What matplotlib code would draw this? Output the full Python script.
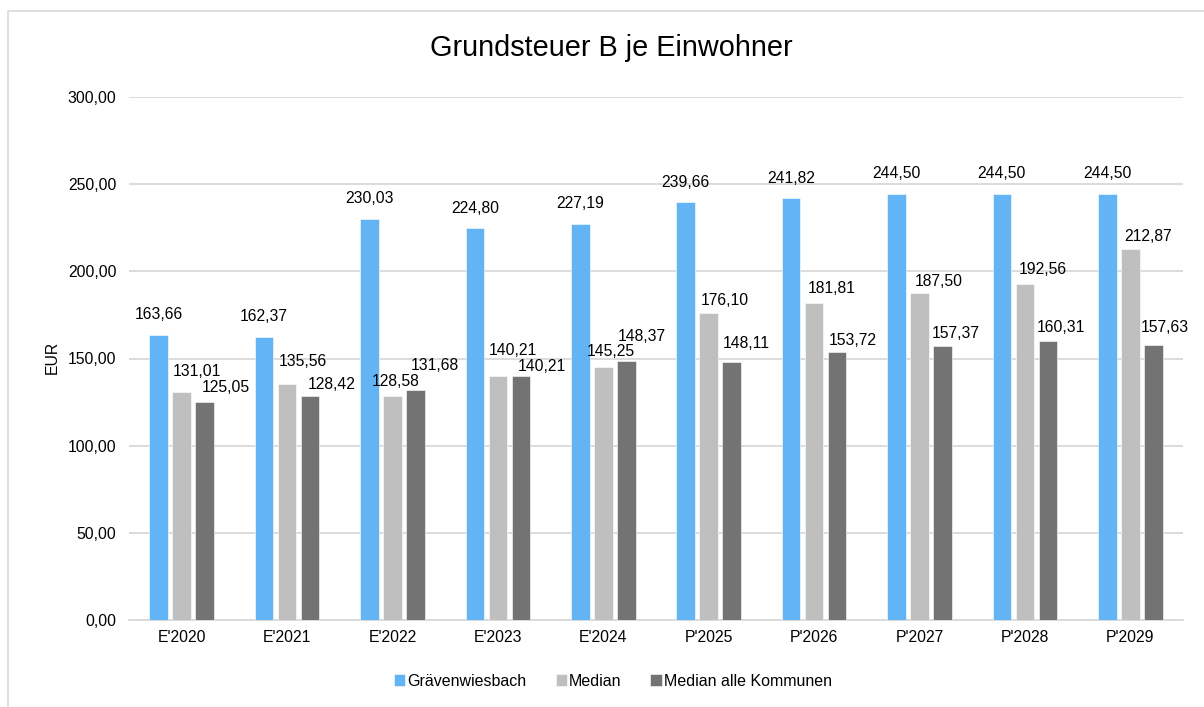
"""Grundsteuer B je Einwohner: clustered bar chart."""

import matplotlib.pyplot as plt
from matplotlib.patches import Rectangle
import numpy as np

plt.rcParams["font.family"] = ["Liberation Sans", "DejaVu Sans"]

categories = ["E'2020", "E'2021", "E'2022", "E'2023", "E'2024",
              "P'2025", "P'2026", "P'2027", "P'2028", "P'2029"]
graevenwiesbach = [163.66, 162.37, 230.03, 224.80, 227.19,
                   239.66, 241.82, 244.50, 244.50, 244.50]
median = [131.01, 135.56, 128.58, 140.21, 145.25,
          176.10, 181.81, 187.50, 192.56, 212.87]
median_alle = [125.05, 128.42, 131.68, 140.21, 148.37,
               148.11, 153.72, 157.37, 160.31, 157.63]
series_names = ["Grävenwiesbach", "Median", "Median alle Kommunen"]
y_ticks = [0, 50, 100, 150, 200, 250, 300]

COLORS = ["#63B4F5", "#BFBFBF", "#737373"]
GRID = "#D9D9D9"
# label offsets (pixels) as placed in the original chart
LABEL_DX = [
    [0] * 10,
    [15, 16, 3, 15, 8, 16, 18, 19, 18, 18],
    [21, 22, 19, 21, 16, 15, 16, 13, 13, 12],
]
LABEL_DY = [
    [20] * 10,
    [20, 22, 14, 25, 15, 12, 15, 12, 15, 12],
    [14, 12, 25, 9, 25, 18, 12, 12, 13, 18],
]


def fmt(v):
    return f"{v:.2f}".replace(".", ",")


fig = plt.figure(figsize=(12.04, 7.07), dpi=100)
fig.patches.append(Rectangle((7.5 / 1204, -0.1), 1.2, 1.1 - 11 / 707,
                             transform=fig.transFigure, fill=False,
                             edgecolor="#D9D9D9", linewidth=1.2))
ax = fig.add_axes([129 / 1204, 87 / 707, 1054 / 1204, 523 / 707])

x = np.arange(len(categories))
width = 0.176
step = 0.218
all_series = [graevenwiesbach, median, median_alle]
for k, (values, color, name) in enumerate(zip(all_series, COLORS, series_names)):
    pos = x + (k - 1) * step
    bars = ax.bar(pos, values, width=width, color=color, label=name,
                  edgecolor="white", linewidth=0.4, zorder=3)
    for i, (b, v) in enumerate(zip(bars, values)):
        ax.annotate(fmt(v), (b.get_x() + b.get_width() / 2, v),
                    xytext=(LABEL_DX[k][i], LABEL_DY[k][i]),
                    textcoords="offset pixels", ha="center", va="center",
                    fontsize=11.3, color="#000000", zorder=4)

ax.set_xlim(-0.5, len(categories) - 0.5)
ax.set_ylim(0, 300)
ax.set_yticks(y_ticks)
ax.set_yticklabels([fmt(t) for t in y_ticks], fontsize=11.3)
ax.set_xticks(x)
ax.set_xticklabels(categories, fontsize=11.3)
ax.tick_params(axis="both", length=0, pad=9)
ax.tick_params(axis="x", pad=7)
ax.grid(axis="y", color=GRID, linewidth=1.3, zorder=0)
for side in ["top", "right", "left"]:
    ax.spines[side].set_visible(False)
ax.spines["bottom"].set_color(GRID)
ax.spines["bottom"].set_linewidth(1.3)
ax.spines["bottom"].set_zorder(0)

fig.text(52 / 1204, 1 - 357 / 707, "EUR", rotation=90, ha="center",
         va="center", fontsize=11.3)
fig.text(611 / 1204, 1 - 48 / 707, "Grundsteuer B je Einwohner",
         ha="center", va="center", fontsize=20.8)

fig.legend(loc="center", bbox_to_anchor=(613 / 1204, 1 - 681 / 707), ncol=3,
           frameon=False, fontsize=11.5, handlelength=0.7, handleheight=0.7,
           handletextpad=0.15, columnspacing=1.8)

fig.savefig("out.png", dpi=100)
